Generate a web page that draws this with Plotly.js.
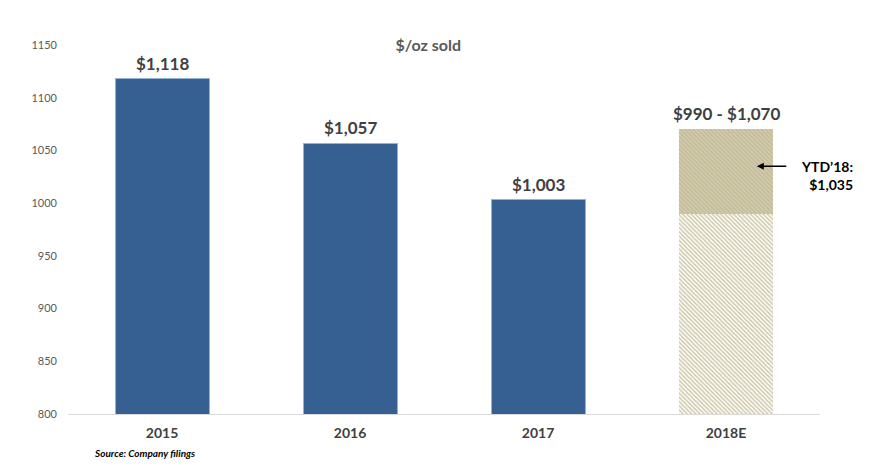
<!DOCTYPE html>
<html>
<head>
<meta charset="utf-8">
<script src="https://cdn.plot.ly/plotly-3.0.1.min.js"></script>
<style>
  html, body { margin: 0; padding: 0; background: #fff; }
  #chart { width: 876px; height: 466px; }
</style>
</head>
<body>
<div id="chart"></div>
<script>
// data
const years = ['2015', '2016', '2017', '2018E'];
const soldPrice = [1118, 1057, 1003, null];
const guidanceLow = [null, null, null, 990];
const guidanceHigh = [null, null, null, 1070];
const ytdPrice = 1035;

const fmt = v => '$' + v.toLocaleString('en-US');
const FONT = 'Lato, "Open Sans", sans-serif';

// guidance band stacked on top of the low estimate
const bandHeight = guidanceHigh.map((h, i) => (h == null ? null : h - guidanceLow[i]));

const traces = [
    {
        x: years,
        y: soldPrice,
        type: 'bar',
        marker: { color: '#376092', line: { color: '#95b3d7', width: 1 } },
        hoverinfo: 'x+y'
    },
    {
        x: years,
        y: guidanceLow,
        type: 'bar',
        marker: {
            color: '#ffffff',
            line: { width: 0 },
            pattern: { shape: '\\', fgcolor: '#cfc8a8', bgcolor: '#ffffff', size: 3, solidity: 0.5 }
        },
        hoverinfo: 'x+y'
    },
    {
        x: years,
        y: bandHeight,
        type: 'bar',
        marker: {
            color: '#c7bf9c',
            line: { width: 0 },
            pattern: { shape: '\\', fgcolor: '#d8d2b8', bgcolor: '#c4bc98', size: 3, solidity: 0.35 }
        },
        hoverinfo: 'x+y'
    }
];

// value labels above each bar (x given as category index)
const annotations = years.map((yr, i) => {
    const isRange = soldPrice[i] == null;
    const top = isRange ? guidanceHigh[i] : soldPrice[i];
    const label = isRange ? fmt(guidanceLow[i]) + ' - ' + fmt(guidanceHigh[i]) : fmt(soldPrice[i]);
    return {
        x: i, y: top, xref: 'x', yref: 'y',
        text: label, showarrow: false,
        yanchor: 'bottom', yshift: 3,
        font: { family: FONT, size: 17, color: '#404040', weight: 'bold' }
    };
});

// YTD arrow and text
annotations.push({
    x: 0.916, xref: 'paper', y: ytdPrice, yref: 'y',
    ax: 31, ay: 0, text: '', showarrow: true,
    arrowhead: 2, arrowsize: 1, arrowwidth: 1.4, arrowcolor: '#000'
});
annotations.push({
    x: 1.009, xref: 'paper', y: ytdPrice, yref: 'y',
    text: 'YTD\u201918:<br>' + fmt(ytdPrice), showarrow: false,
    xanchor: 'center', yanchor: 'middle', align: 'right', yshift: -9,
    font: { family: FONT, size: 14, color: '#000', weight: 'bold' }
});

annotations.push({
    x: (92 - 68) / 752, xref: 'paper', y: 0, yref: 'paper', yshift: -39,
    xanchor: 'left', yanchor: 'middle',
    text: '<i>Source: Company filings</i>', showarrow: false,
    font: { family: FONT, size: 10, color: '#000', weight: 'bold' }
});

const layout = {
    width: 876,
    height: 466,
    margin: { l: 68, r: 56, t: 45, b: 52 },
    paper_bgcolor: '#fff',
    plot_bgcolor: '#fff',
    barmode: 'stack',
    bargap: 0.5,
    showlegend: false,
    title: {
        text: '<b>$/oz sold</b>',
        xref: 'paper', x: 0.479, xanchor: 'center',
        yref: 'container', y: 1 - 45 / 466, yanchor: 'middle',
        font: { family: FONT, size: 16, color: '#595959' }
    },
    xaxis: {
        type: 'category',
        range: [-0.5, years.length - 0.5],
        showline: true, linecolor: '#d9d9d9', linewidth: 1,
        showgrid: false, ticks: '',
        ticklabelstandoff: 6,
        tickfont: { family: FONT, size: 14, color: '#404040', weight: 'bold' }
    },
    yaxis: {
        range: [800, 1150],
        dtick: 50,
        showgrid: false, zeroline: false, showline: false, ticks: '',
        ticklabelstandoff: 10,
        tickfont: { family: FONT, size: 11, color: '#595959' }
    },
    annotations: annotations
};

Plotly.newPlot('chart', traces, layout, { displayModeBar: false, staticPlot: true });
</script>
</body>
</html>
